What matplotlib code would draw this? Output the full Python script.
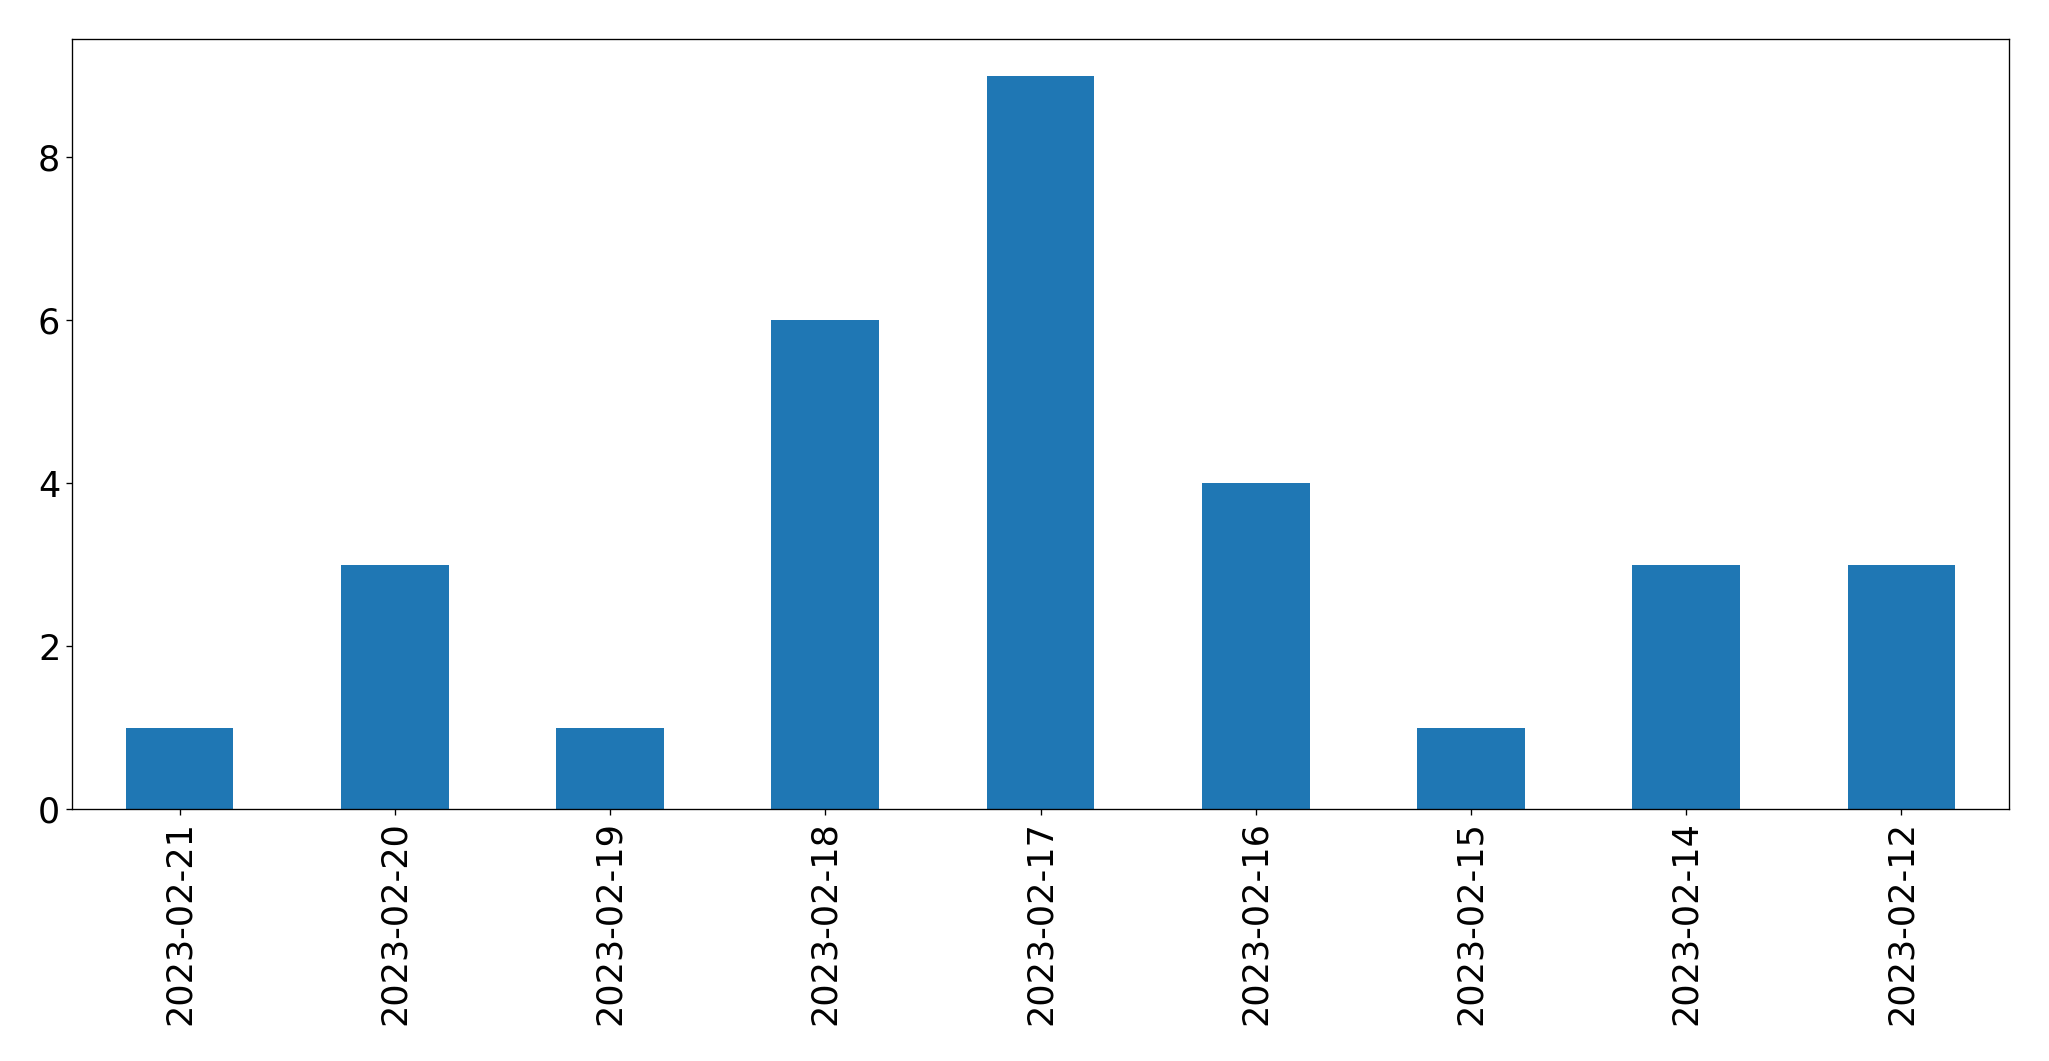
import pandas as pd
from matplotlib import pyplot as plt

dates = ['2023-02-21', '2023-02-20', '2023-02-19', '2023-02-18', '2023-02-17',
         '2023-02-16', '2023-02-15', '2023-02-14', '2023-02-12']
counts = [1, 3, 1, 6, 9, 4, 1, 3, 3]

s = pd.Series(counts, index=dates)

fig, ax = plt.subplots(figsize=(2049 / 120, 1061 / 120), dpi=120)
s.plot(kind='bar', ax=ax, color='#1f77b4')
ax.tick_params(labelsize=21)
plt.subplots_adjust(left=72 / 2049, right=2009 / 2049, top=1 - 39 / 1061, bottom=1 - 809 / 1061)
plt.savefig('out.png', dpi=120)
